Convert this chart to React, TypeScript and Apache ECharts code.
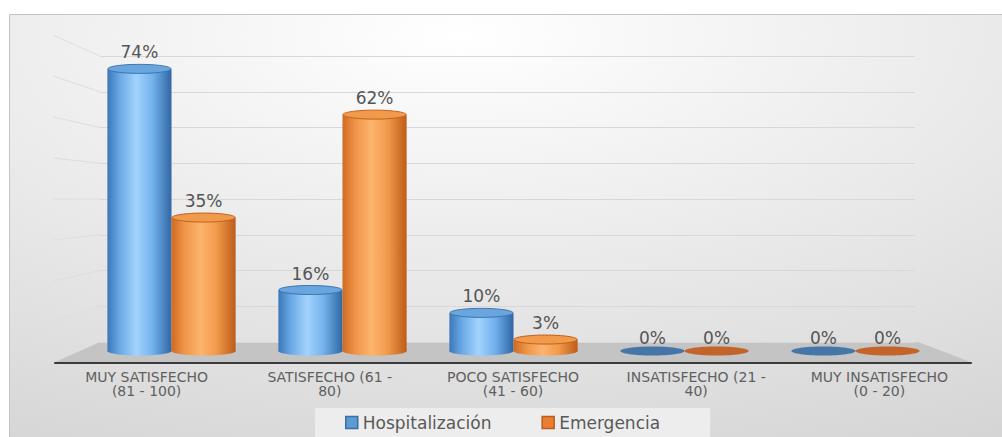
import React, { useEffect, useRef } from "react";
import * as echarts from "echarts";

const categories = [
  "MUY SATISFECHO\n(81 - 100)",
  "SATISFECHO (61 -\n80)",
  "POCO SATISFECHO\n(41 - 60)",
  "INSATISFECHO (21 -\n40)",
  "MUY INSATISFECHO\n(0 - 20)",
];
const seriesNames = ["Hospitalización", "Emergencia"];
const hospitalizacion = [74, 16, 10, 0, 0];
const emergencia = [35, 62, 3, 0, 0];
const wallTicks = [10, 20, 30, 40, 50, 60, 70, 80];

const palettes = [
  {
    stops: ["#3c77b8", "#6aaae6", "#a2d3fd", "#74b3ee", "#2f67a3"],
    top: "#69a6e0",
    rim: "#3e72a8",
    flat: "#4676a8",
    legend: "#5b9bd5",
    legendBorder: "#3a6ea5",
  },
  {
    stops: ["#cf6a22", "#ef9448", "#fdb46d", "#f29a4c", "#bd5c17"],
    top: "#f29a4c",
    rim: "#c0601c",
    flat: "#c4642a",
    legend: "#ed7d31",
    legendBorder: "#b85f1c",
  },
];

function makeRender(seriesIdx: number) {
  const side = seriesIdx === 0 ? -1 : 1;
  const pal = palettes[seriesIdx];
  return (params: any, api: any) => {
    const cat = api.value(0);
    const val = api.value(1);
    const top = api.coord([cat, val]);
    const base = api.coord([cat, 0]);
    const band = api.size([1, 0])[0];
    const w = band * 0.375;
    const cx = top[0] + (side * w) / 2;
    const ry = 4.5;
    const grad = new echarts.graphic.LinearGradient(0, 0, 1, 0, [
      { offset: 0, color: pal.stops[0] },
      { offset: 0.2, color: pal.stops[1] },
      { offset: 0.45, color: pal.stops[2] },
      { offset: 0.7, color: pal.stops[3] },
      { offset: 1, color: pal.stops[4] },
    ]);
    const children: any[] = [];
    if (val > 0) {
      children.push({
        type: "ellipse",
        shape: { cx, cy: base[1], rx: w / 2, ry },
        style: { fill: grad },
      });
      children.push({
        type: "rect",
        shape: { x: cx - w / 2, y: top[1], width: w, height: base[1] - top[1] },
        style: { fill: grad },
      });
      children.push({
        type: "ellipse",
        shape: { cx, cy: top[1], rx: w / 2 - 0.5, ry },
        style: { fill: pal.top, stroke: pal.rim, lineWidth: 1 },
      });
    } else {
      children.push({
        type: "ellipse",
        shape: { cx, cy: base[1], rx: w / 2, ry },
        style: { fill: pal.flat },
      });
    }
    children.push({
      type: "text",
      x: cx,
      y: top[1] - (val > 0 ? 8 : 5),
      style: {
        text: val + "%",
        fill: "#555555",
        fontSize: 17,
        fontFamily: "DejaVu Sans",
        align: "center",
        verticalAlign: "bottom",
      },
    });
    return { type: "group", children };
  };
}

export default function App() {
  const ref = useRef<HTMLDivElement>(null);
  useEffect(() => {
    if (!ref.current) return;
    const chart = echarts.init(ref.current, null, { renderer: "svg" });

    const sideLines = wallTicks.map((v) => ({
      type: "line",
      z: -40,
      shape: { x1: 53, y1: 363 - v * 4.1, x2: 100, y2: 342 - v * 3.575 },
      style: { stroke: "#dedede", lineWidth: 1 },
      silent: true,
    }));

    chart.setOption({
      animation: false,
      backgroundColor: "#ffffff",
      graphic: [
        {
          type: "rect",
          z: -100,
          shape: { x: 9.5, y: 14.5, width: 1000, height: 430 },
          style: {
            fill: new echarts.graphic.RadialGradient(0.45, 0.05, 1.45, [
              { offset: 0, color: "#ffffff" },
              { offset: 1, color: "#c6c6c6" },
            ]),
            stroke: "#c4c4c4",
            lineWidth: 1,
          },
          silent: true,
        },
        ...sideLines,
        {
          type: "polygon",
          z: -50,
          shape: {
            points: [
              [100, 342],
              [918, 342],
              [973, 363],
              [53, 363],
            ],
          },
          style: { fill: "#c4c4c4" },
          silent: true,
        },
      ],
      grid: [
        { left: 100, right: 87, top: 56, bottom: 95 },
        { left: 86, right: 61, top: 46, bottom: 86 },
        { left: 55, right: 31, top: 300, bottom: 74 },
      ],
      xAxis: [
        { type: "category", gridIndex: 0, data: categories, show: false },
        { type: "category", gridIndex: 1, data: categories, show: false },
        {
          type: "category",
          gridIndex: 2,
          data: categories,
          axisLine: { show: true, lineStyle: { color: "#3a3a3a", width: 2 } },
          axisTick: { show: false },
          axisLabel: {
            interval: 0,
            margin: 7,
            color: "#606060",
            fontSize: 14,
            fontFamily: "DejaVu Sans",
            lineHeight: 14,
          },
        },
      ],
      yAxis: [
        {
          type: "value",
          gridIndex: 0,
          min: 0,
          max: 80,
          interval: 10,
          axisLabel: { show: false },
          axisLine: { show: false },
          axisTick: { show: false },
          splitLine: { show: true, lineStyle: { color: "#d8d8d8", width: 1.2 } },
        },
        {
          type: "value",
          gridIndex: 1,
          min: 0,
          max: 80,
          show: false,
          splitLine: { show: false },
        },
        {
          type: "value",
          gridIndex: 2,
          min: 0,
          max: 1,
          show: false,
          splitLine: { show: false },
        },
      ],
      legend: {
        left: 315,
        top: 408,
        backgroundColor: "#ededed",
        padding: [6, 50, 8, 30],
        itemGap: 50,
        itemWidth: 12,
        itemHeight: 12,
        icon: "rect",
        textStyle: { color: "#595959", fontSize: 17, fontFamily: "DejaVu Sans" },
        data: seriesNames.map((n, i) => ({
          name: n,
          itemStyle: {
            color: palettes[i].legend,
            borderColor: palettes[i].legendBorder,
            borderWidth: 1.5,
          },
        })),
      },
      series: [hospitalizacion, emergencia].map((vals, i) => ({
        type: "custom",
        name: seriesNames[i],
        xAxisIndex: 1,
        yAxisIndex: 1,
        itemStyle: { color: palettes[i].legend },
        encode: { x: 0, y: 1 },
        data: vals.map((v, j) => [j, v]),
        renderItem: makeRender(i),
        z: 3 + i,
      })),
    });
    return () => chart.dispose();
  }, []);
  return (
    <div
      ref={ref}
      style={{ position: "fixed", left: 0, top: 0, width: 1002, height: 437 }}
    />
  );
}
